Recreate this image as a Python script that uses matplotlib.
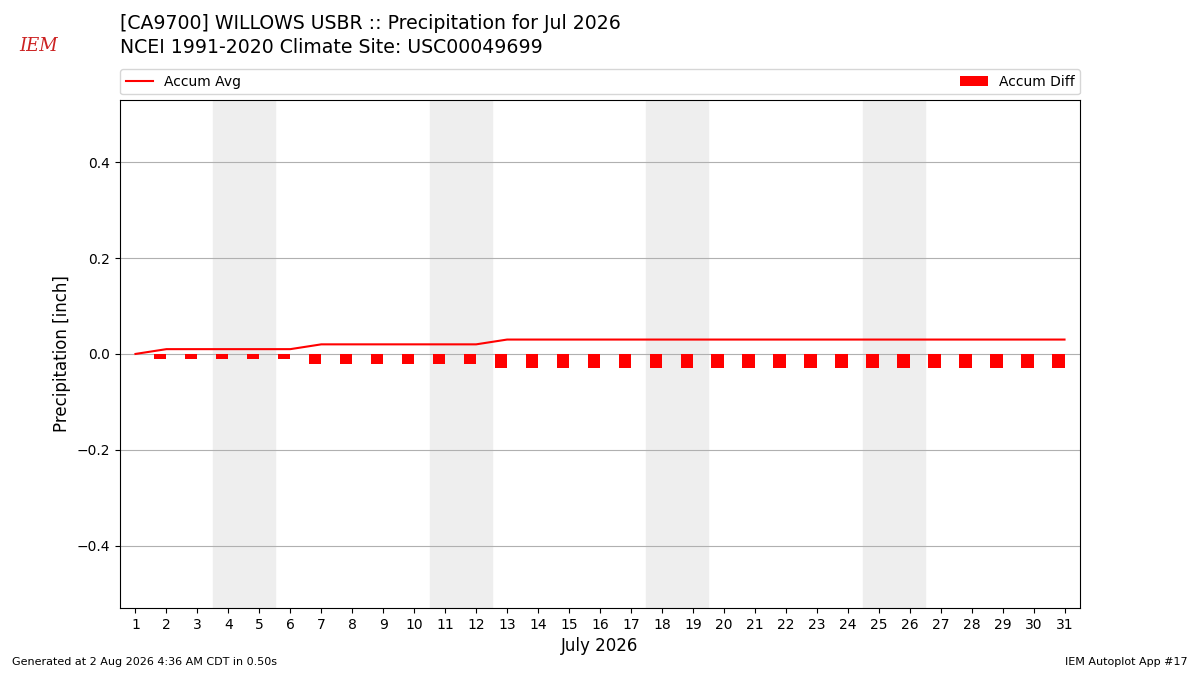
import matplotlib
matplotlib.use("Agg")
import matplotlib.pyplot as plt

days = list(range(1, 32))
accum_avg = [0.00] + [0.01] * 5 + [0.02] * 6 + [0.03] * 19
accum_diff = [0.00] + [-0.01] * 5 + [-0.02] * 6 + [-0.03] * 19
weekend_starts = [4, 11, 18, 25]

fig = plt.figure(figsize=(12, 6.75), dpi=100)
ax = fig.add_axes([0.1, 0.0993, 0.8, 0.7527])

for d in weekend_starts:
    ax.axvspan(d - 0.5, d + 1.5, color="#eeeeee", zorder=0)

ax.bar(days, accum_diff, width=-0.4, align="edge", color="red", label="Accum Diff", zorder=3)
ax.plot(days, accum_avg, color="red", lw=1.5, label="Accum Avg", zorder=4)

ax.set_xlim(0.5, 31.5)
ax.set_ylim(-0.53, 0.53)
ax.set_xticks(days)
ax.set_yticks([-0.4, -0.2, 0.0, 0.2, 0.4])
ax.yaxis.grid(True, color="#b0b0b0", lw=0.8)
ax.set_axisbelow(True)
ax.tick_params(labelsize=10)
ax.set_xlabel("July 2026", fontsize=12)
ax.set_ylabel("Precipitation [inch]", fontsize=12)

ax.legend(loc="lower left", bbox_to_anchor=(0, 1.011, 1, 0.05), mode="expand",
          ncol=2, borderaxespad=0, fontsize=10)

fig.text(0.1, 0.965, "[CA9700] WILLOWS USBR :: Precipitation for Jul 2026", fontsize=13.6, va="center")
fig.text(0.1, 0.930, "NCEI 1991-2020 Climate Site: USC00049699", fontsize=13.6, va="center")
fig.text(0.032, 0.932, "IEM", fontsize=13, color="#cc2222", family="DejaVu Serif",
         style="italic", ha="center", va="center")
fig.text(0.01, 0.015, "Generated at 2 Aug 2026 4:36 AM CDT in 0.50s", fontsize=8)
fig.text(0.99, 0.015, "IEM Autoplot App #17", fontsize=8, ha="right")

fig.savefig("out.png", dpi=100)
